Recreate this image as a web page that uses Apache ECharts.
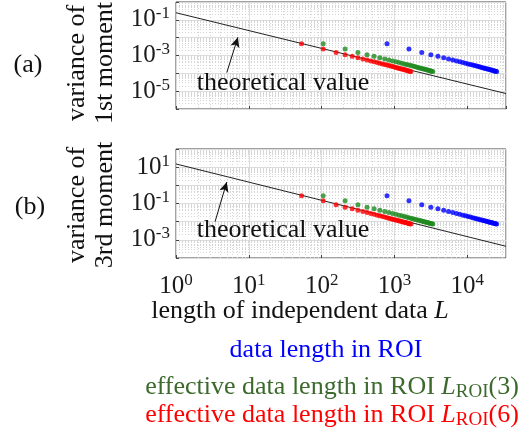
<!DOCTYPE html>
<html>
<head>
<meta charset="utf-8">
<script src="https://cdn.jsdelivr.net/npm/echarts@6/dist/echarts.min.js"></script>
<style>
  html, body { margin: 0; padding: 0; background: #fff; }
  #chart { width: 532px; height: 436px; }
</style>
</head>
<body>
<div id="chart"></div>
<script>
// lengths of independent data, one list per way of counting the ROI length
var lenRoi = [790, 1580, 2370, 3160, 3950, 4740, 5530, 6320, 7110, 7900, 8690, 9480, 10270, 11060, 11850, 12640,
  13430, 14220, 15010, 15800, 16590, 17380, 18170, 18960, 19750, 20540, 21330, 22120, 22910, 23700, 24490, 25280];
var lenRoi3 = [105, 210, 315, 420, 525, 630, 735, 840, 945, 1050, 1155, 1260, 1365, 1470, 1575, 1680,
  1785, 1890, 1995, 2100, 2205, 2310, 2415, 2520, 2625, 2730, 2835, 2940, 3045, 3150, 3255, 3360];
var lenRoi6 = [53, 105, 158, 210, 263, 315, 368, 420, 473, 525, 578, 630, 683, 735, 788, 840,
  893, 945, 998, 1050, 1103, 1155, 1208, 1260, 1313, 1365, 1418, 1470, 1523, 1575, 1628, 1680];

// measured variances (same measurements plotted against each length)
var var1st = [4.62e-3, 2.30e-3, 1.48e-3, 1.10e-3, 9.09e-4, 7.54e-4, 6.44e-4, 5.61e-4, 4.97e-4, 4.45e-4, 4.03e-4,
  3.68e-4, 3.38e-4, 3.13e-4, 2.90e-4, 2.71e-4, 2.54e-4, 2.39e-4, 2.26e-4, 2.13e-4, 2.02e-4, 1.92e-4, 1.83e-4,
  1.75e-4, 1.67e-4, 1.60e-4, 1.53e-4, 1.47e-4, 1.41e-4, 1.36e-4, 1.31e-4, 1.26e-4];
var var3rd = [0.263, 0.140, 0.0857, 0.0629, 0.0514, 0.0429, 0.0367, 0.0318, 0.0283, 0.0254, 0.0229, 0.0210,
  0.0193, 0.0180, 0.0166, 0.0155, 0.0146, 0.0138, 0.0129, 0.0123, 0.0117, 0.0112, 0.0107, 0.0101, 0.00971,
  0.00934, 0.00900, 0.00867, 0.00828, 0.00800, 0.00774, 0.00750];

// theoretical lines (end points)
var theoryLen = [1, 34000];
var theory1st = [0.25, 7.35e-6];
var theory3rd = [15, 4.41e-4];

var xTickLabels = ['0', '1', '2', '3', '4'];

var FONT = '"Liberation Serif", "Times New Roman", serif';
var BLUE = '#0000ff', GREEN = '#1f8a1f', RED = '#ff0000';

function zip(xs, ys) {
  var out = [];
  for (var i = 0; i < xs.length; i++) out.push([xs[i], ys[i]]);
  return out;
}

var rich = {
  b: { fontFamily: FONT, fontSize: 25, color: '#1a1a1a' },
  s: { fontFamily: FONT, fontSize: 17, color: '#1a1a1a', padding: [0, 0, 12, 0] }
};

function yLabel(v) {
  var e = Math.round(Math.log10(v));
  if (Math.abs(e % 2) !== 1) return '';
  return '{b|10}{s|' + e + '}';
}

function makeGrid(top, height) {
  return { left: 176, top: top, width: 330, height: height, show: true, borderColor: '#444', borderWidth: 1, backgroundColor: 'transparent' };
}

function makeX(idx, showLabel) {
  return {
    type: 'log', gridIndex: idx, logBase: 10, min: 1, max: 34000, interval: 1,
    axisLine: { show: false },
    axisTick: { show: true, inside: true, length: 3, lineStyle: { color: '#444' } },
    minorTick: { show: false, splitNumber: 9 },
    splitLine: { show: true, lineStyle: { color: '#dcdcdc', width: 1 } },
    minorSplitLine: { show: true, lineStyle: { color: '#d6d6d6', type: [1, 2], width: 1 } },
    axisLabel: {
      show: showLabel, margin: 14, showMaxLabel: false,
      formatter: function (v) {
        var e = Math.round(Math.log10(v));
        if (xTickLabels.indexOf(String(e)) < 0) return '';
        return '{b|10}{s|' + e + '}';
      },
      rich: rich
    }
  };
}

function makeY(idx, min, max) {
  return {
    type: 'log', gridIndex: idx, logBase: 10, min: min, max: max, interval: 1,
    axisLine: { show: false },
    axisTick: { show: true, inside: true, length: 3, lineStyle: { color: '#444' } },
    minorTick: { show: false, splitNumber: 9 },
    splitLine: { show: true, lineStyle: { color: '#dcdcdc', width: 1 } },
    minorSplitLine: { show: true, lineStyle: { color: '#d6d6d6', type: [1, 2], width: 1 } },
    axisLabel: { margin: 6, formatter: yLabel, rich: rich, showMinLabel: true, showMaxLabel: true }
  };
}

function dots(name, xs, ys, color, idx) {
  return {
    name: name, type: 'scatter', xAxisIndex: idx, yAxisIndex: idx,
    data: zip(xs, ys), symbolSize: 5, itemStyle: { color: color }, silent: true, z: 3
  };
}

function theory(ys, idx, arrowFrom, arrowTo) {
  return {
    type: 'line', xAxisIndex: idx, yAxisIndex: idx, data: zip(theoryLen, ys),
    symbol: 'none', lineStyle: { color: '#222', width: 1 }, silent: true, z: 2,
    markLine: {
      silent: true, symbol: ['none', 'arrow'], symbolSize: [7, 10],
      label: { show: false },
      lineStyle: { color: '#111', width: 1, type: 'solid' },
      data: [[{ coord: arrowFrom }, { coord: arrowTo }]]
    }
  };
}

var chart = echarts.init(document.getElementById('chart'), null, { renderer: 'canvas' });

var textColor = '#111';
function txt(x, y, text, opts) {
  var o = {
    type: 'text', x: x, y: y,
    style: { text: text, fill: textColor, font: '26px ' + FONT, textAlign: 'center', textVerticalAlign: 'middle' }
  };
  if (opts) for (var k in opts) o[k] = opts[k];
  return o;
}

chart.setOption({
  animation: false,
  backgroundColor: '#fff',
  grid: [makeGrid(2, 107), makeGrid(149, 109)],
  xAxis: [makeX(0, false), makeX(1, true)],
  yAxis: [makeY(0, 1e-6, 1), makeY(1, 1e-4, 100)],
  series: [
    theory(theory1st, 0, [4.98, 1.1e-4], [7.08, 0.0105]),
    dots('data length in ROI', lenRoi, var1st, BLUE, 0),
    dots('L_ROI(3)', lenRoi3, var1st, GREEN, 0),
    dots('L_ROI(6)', lenRoi6, var1st, RED, 0),
    theory(theory3rd, 1, [3.44, 0.01], [4.98, 1.53]),
    dots('data length in ROI', lenRoi, var3rd, BLUE, 1),
    dots('L_ROI(3)', lenRoi3, var3rd, GREEN, 1),
    dots('L_ROI(6)', lenRoi6, var3rd, RED, 1)
  ],
  graphic: [
    txt(28, 65, '(a)'),
    txt(30, 207, '(b)'),
    txt(77, 63, 'variance of', { rotation: Math.PI / 2 }),
    txt(105, 63, '1st moment', { rotation: Math.PI / 2 }),
    txt(77, 205, 'variance of', { rotation: Math.PI / 2 }),
    txt(105, 205, '3rd moment', { rotation: Math.PI / 2 }),
    txt(283, 83, 'theoretical value', { z: 10 }),
    txt(283, 230, 'theoretical value', { z: 10 }),
    {
      type: 'text', x: 300, y: 311, z: 10,
      style: {
        text: '{n|length of independent data }{i|L}', textAlign: 'center', textVerticalAlign: 'middle',
        rich: { n: { font: '26px ' + FONT, fill: textColor }, i: { font: 'italic 26px ' + FONT, fill: textColor } }
      }
    },
    txt(326, 350, 'data length in ROI', { style: { text: 'data length in ROI', fill: BLUE, font: '26px ' + FONT, textAlign: 'center', textVerticalAlign: 'middle' } }),
    {
      type: 'text', x: 332, y: 387, z: 10,
      style: {
        text: '{n|effective data length in ROI }{i|L}{sub|ROI}{n|(3)}', textAlign: 'center', textVerticalAlign: 'middle',
        rich: {
          n: { font: '26px ' + FONT, fill: '#3b6a2c' },
          i: { font: 'italic 26px ' + FONT, fill: '#3b6a2c' },
          sub: { font: '19px ' + FONT, fill: '#3b6a2c', padding: [10, 0, 0, 0] }
        }
      }
    },
    {
      type: 'text', x: 332, y: 415, z: 10,
      style: {
        text: '{n|effective data length in ROI }{i|L}{sub|ROI}{n|(6)}', textAlign: 'center', textVerticalAlign: 'middle',
        rich: {
          n: { font: '26px ' + FONT, fill: RED },
          i: { font: 'italic 26px ' + FONT, fill: RED },
          sub: { font: '19px ' + FONT, fill: RED, padding: [10, 0, 0, 0] }
        }
      }
    }
  ]
});
</script>
</body>
</html>
